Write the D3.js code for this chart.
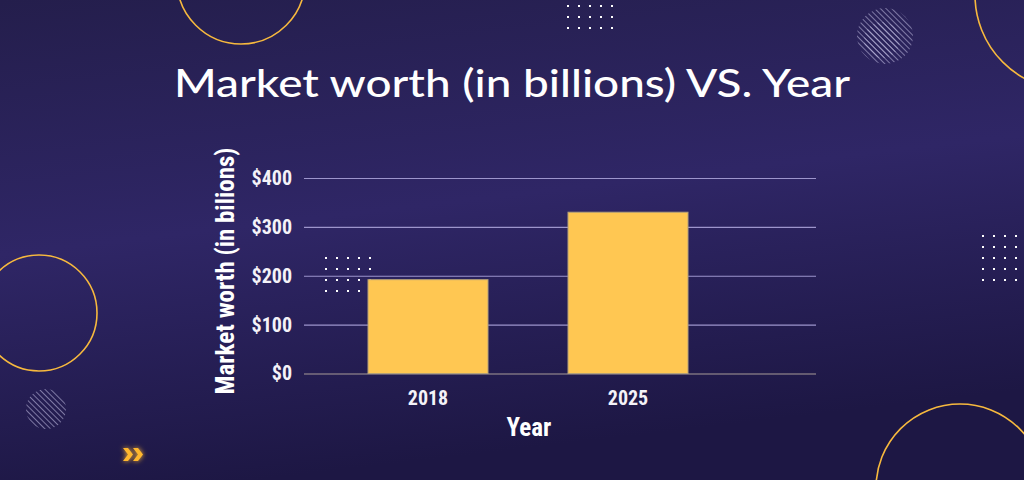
<!DOCTYPE html>
<html>
<head>
<meta charset="utf-8">
<script src="https://cdn.jsdelivr.net/npm/d3@7"></script>
<style>
  html, body { margin: 0; padding: 0; background: #2a2357; }
  svg { display: block; }
</style>
</head>
<body>
<script>
// chart values
var years = ["2018", "2025"];
var worth = [192, 330];
var yTicks = [0, 100, 200, 300, 400];

var title = "Market worth (in billions) VS. Year";
var yTitle = "Market worth (in bilions)";
var xTitle = "Year";

var w = 1024;
var h = 480;

var svg = d3.select("body")
  .append("svg")
  .attr("width", w)
  .attr("height", h);

var defs = svg.append("defs");

var bg = defs.append("linearGradient")
  .attr("id", "bg")
  .attr("x1", "0").attr("y1", "0")
  .attr("x2", "0.25").attr("y2", "1");
bg.append("stop").attr("offset", "0%").attr("stop-color", "#241e4c");
bg.append("stop").attr("offset", "50%").attr("stop-color", "#2f2666");
bg.append("stop").attr("offset", "100%").attr("stop-color", "#1d1744");

var hatch = defs.append("pattern")
  .attr("id", "hatch")
  .attr("patternUnits", "userSpaceOnUse")
  .attr("width", 4).attr("height", 4)
  .attr("patternTransform", "rotate(-45)");
hatch.append("line")
  .attr("x1", 0).attr("y1", 0).attr("x2", 0).attr("y2", 4)
  .attr("stroke", "#c4c0e4")
  .attr("stroke-width", 1.4);

var glow = defs.append("filter").attr("id", "glow")
  .attr("x", "-50%").attr("y", "-50%").attr("width", "200%").attr("height", "200%");
glow.append("feGaussianBlur").attr("stdDeviation", 2.5).attr("result", "b");
var merge = glow.append("feMerge");
merge.append("feMergeNode").attr("in", "b");
merge.append("feMergeNode").attr("in", "SourceGraphic");

svg.append("rect")
  .attr("width", w)
  .attr("height", h)
  .attr("fill", "url(#bg)");

// decorations
var deco = svg.append("g").attr("id", "deco");

var rings = [[241, -20, 64], [1070, -5, 95], [39, 313, 58], [960, 488, 84]];
deco.selectAll("circle.ring")
  .data(rings)
  .enter()
  .append("circle")
  .attr("class", "ring")
  .attr("cx", function(d) { return d[0]; })
  .attr("cy", function(d) { return d[1]; })
  .attr("r", function(d) { return d[2]; })
  .attr("fill", "none")
  .attr("stroke", "#f7b93e")
  .attr("stroke-width", 1.6);

var hatched = [[885, 36, 28], [882, 40, 18], [46, 409, 20]];
deco.selectAll("circle.hatch")
  .data(hatched)
  .enter()
  .append("circle")
  .attr("class", "hatch")
  .attr("cx", function(d) { return d[0]; })
  .attr("cy", function(d) { return d[1]; })
  .attr("r", function(d) { return d[2]; })
  .attr("fill", "url(#hatch)")
  .attr("opacity", 0.8);

function dotGrid(x0, y0, cols, rows) {
  var pts = [];
  for (var i = 0; i < cols; i++) {
    for (var j = 0; j < rows; j++) {
      pts.push([x0 + i * 11, y0 + j * 11]);
    }
  }
  deco.append("g").selectAll("rect")
    .data(pts)
    .enter()
    .append("rect")
    .attr("x", function(d) { return d[0] - 1; })
    .attr("y", function(d) { return d[1] - 1; })
    .attr("width", 2)
    .attr("height", 2)
    .attr("fill", "#ffffff");
}
dotGrid(568, 6, 5, 3);
dotGrid(326, 258, 5, 4);
dotGrid(983, 236, 4, 5);

deco.append("g")
  .attr("filter", "url(#glow)")
  .selectAll("path")
  .data([123, 133])
  .enter()
  .append("path")
  .attr("d", function(d) {
    return "M" + d + ",448 L" + (d + 5) + ",448 L" + (d + 10) + ",454.5 L" + (d + 5) + ",461 L" + d + ",461 L" + (d + 5) + ",454.5 Z";
  })
  .attr("fill", "#ffb72f");

// title
svg.append("text")
  .attr("x", 512)
  .attr("y", 97)
  .attr("text-anchor", "middle")
  .attr("fill", "#ffffff")
  .attr("textLength", 676)
  .attr("lengthAdjust", "spacingAndGlyphs")
  .style("font-family", "Lato, 'Noto Sans', sans-serif")
  .style("font-weight", 500)
  .style("font-size", "38px")
  .text(title);

// chart
var x = d3.scaleBand()
  .domain(years)
  .range([328, 728])
  .paddingInner(0.4)
  .paddingOuter(0.2);

var y = d3.scaleLinear()
  .domain([0, 400])
  .range([373.5, 178]);

var condensed = "'Roboto Condensed', 'Liberation Sans Narrow', 'DejaVu Sans Condensed', Roboto, sans-serif";

var yAxis = d3.axisLeft(y)
  .tickValues(yTicks)
  .tickSize(-512)
  .tickPadding(12)
  .tickFormat(function(d) { return "$" + d; });

var gy = svg.append("g")
  .attr("class", "y axis")
  .attr("transform", "translate(304,0)")
  .call(yAxis);
gy.select(".domain").remove();
gy.selectAll(".tick line")
  .attr("stroke", function(d) { return d === 0 ? "#a89c98" : "#9d95cc"; })
  .attr("stroke-width", 1.2);
gy.selectAll(".tick text")
  .attr("fill", "#f4f2f8")
  .style("font-family", condensed)
  .style("font-weight", 700)
  .style("font-size", "20px");

svg.append("g")
  .selectAll("rect")
  .data(worth)
  .enter()
  .append("rect")
  .attr("x", function(d, i) { return x(years[i]); })
  .attr("y", function(d) { return y(d); })
  .attr("width", x.bandwidth())
  .attr("height", function(d) { return y(0) - y(d); })
  .attr("fill", "#ffc752")
  .attr("stroke", "#b3a07a")
  .attr("stroke-width", 1);

var xAxis = d3.axisBottom(x)
  .tickSize(0)
  .tickPadding(17);

var gx = svg.append("g")
  .attr("class", "x axis")
  .attr("transform", "translate(0,373.5)")
  .call(xAxis);
gx.select(".domain").remove();
gx.selectAll(".tick text")
  .attr("fill", "#f4f2f8")
  .style("font-family", condensed)
  .style("font-weight", 700)
  .style("font-size", "20px");

svg.append("text")
  .attr("x", 529)
  .attr("y", 436)
  .attr("text-anchor", "middle")
  .attr("fill", "#ffffff")
  .style("font-family", condensed)
  .style("font-weight", 700)
  .style("font-size", "25px")
  .text(xTitle);

svg.append("text")
  .attr("transform", "translate(234,271) rotate(-90)")
  .attr("text-anchor", "middle")
  .attr("fill", "#ffffff")
  .style("font-family", condensed)
  .style("font-weight", 700)
  .style("font-size", "25px")
  .text(yTitle);
</script>
</body>
</html>
